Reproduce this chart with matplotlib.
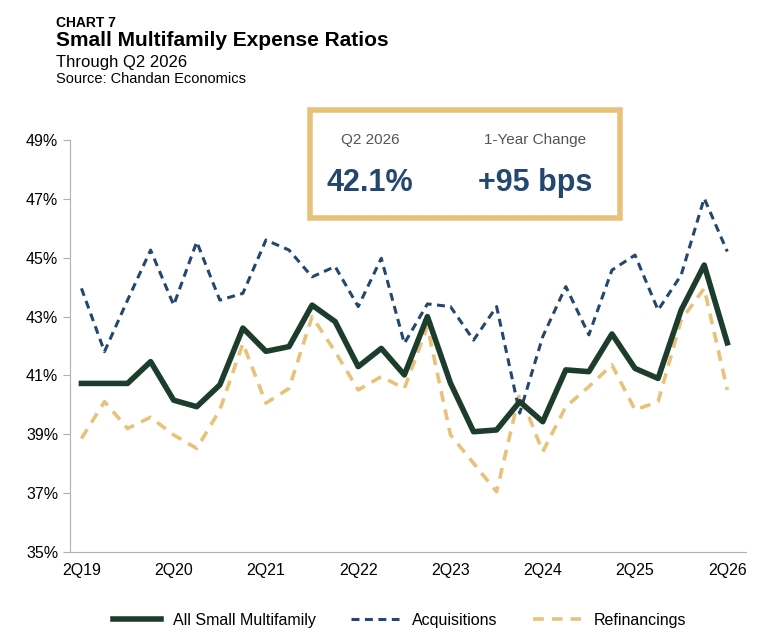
import numpy as np
import matplotlib.pyplot as plt
from matplotlib.patches import Rectangle

plt.rcParams['font.family'] = ['Liberation Sans', 'DejaVu Sans']

# quarterly series, 2Q19 .. 2Q26
all_small = [40.73, 40.73, 40.73, 41.47, 40.16, 39.94, 40.68, 42.61, 41.82, 41.98,
             43.39, 42.83, 41.30, 41.92, 41.02, 43.00, 40.74, 39.09, 39.15, 40.11,
             39.43, 41.19, 41.13, 42.41, 41.24, 40.90, 43.22, 44.75, 42.11]
acquisitions = [43.96, 41.81, 43.56, 45.26, 43.39, 45.54, 43.56, 43.79, 45.60, 45.26,
                44.35, 44.70, 43.34, 44.98, 42.09, 43.43, 43.34, 42.20, 43.34, 39.72,
                42.32, 44.02, 42.38, 44.58, 45.09, 43.22, 44.41, 47.02, 45.21]
refinancings = [38.86, 40.11, 39.20, 39.58, 38.98, 38.52, 39.83, 42.09, 40.06, 40.56,
                43.00, 41.81, 40.51, 40.96, 40.56, 42.66, 38.98, 38.02, 37.05, 40.39,
                38.41, 39.94, 40.62, 41.36, 39.83, 40.11, 42.88, 43.96, 40.51]
tick_labels = ['2Q19', '2Q20', '2Q21', '2Q22', '2Q23', '2Q24', '2Q25', '2Q26']
y_ticks = [35, 37, 39, 41, 43, 45, 47, 49]

green = '#1c3d2c'
navy = '#23476f'
gold = '#e8c27a'

fig = plt.figure(figsize=(7.68, 6.42), dpi=100)
ax = fig.add_axes([0.091, 0.14, 0.88, 0.642])
x = np.arange(len(all_small))

ax.plot(x, refinancings, color=gold, lw=2.6, dashes=(3, 2.2), label='Refinancings', zorder=2)
ax.plot(x, acquisitions, color=navy, lw=2.2, dashes=(2.6, 1.8), label='Acquisitions', zorder=3)
ax.plot(x, all_small, color=green, lw=4, label='All Small Multifamily', zorder=4)

ax.set_xlim(-0.5, 28.8)
ax.set_ylim(35, 49)
ax.set_yticks(y_ticks)
ax.set_yticklabels([f'{v}%' for v in y_ticks], fontsize=11.5)
ax.set_xticks(np.arange(0, 29, 4))
ax.set_xticklabels(tick_labels, fontsize=11.5)
ax.tick_params(axis='x', length=0, pad=8)
ax.tick_params(axis='y', length=5, color='#b0b0b0', direction='out')
for s in ['top', 'right']:
    ax.spines[s].set_visible(False)
ax.spines['left'].set_color('#b0b0b0')
ax.spines['bottom'].set_color('#b0b0b0')

h, l = ax.get_legend_handles_labels()
order = [2, 1, 0]
fig.legend([h[i] for i in order], [l[i] for i in order], loc='lower center',
           bbox_to_anchor=(0.52, 0.0), ncol=3, frameon=False, fontsize=11.5,
           handlelength=3, columnspacing=2.2)

# header
fig.text(0.073, 0.975, 'CHART 7', fontsize=10, fontweight='bold', va='top')
fig.text(0.073, 0.952, 'Small Multifamily Expense Ratios', fontsize=15, fontweight='bold', va='top')
fig.text(0.073, 0.915, 'Through Q2 2026', fontsize=12, va='top')
fig.text(0.073, 0.888, 'Source: Chandan Economics', fontsize=10.5, va='top')

# callout box
fig.patches.append(Rectangle((310/768, 1 - 218/642), 310/768, 108/642, transform=fig.transFigure,
                             fill=False, edgecolor=gold, lw=4, zorder=10))
fig.text(370/768, 1 - 140/642, 'Q2 2026', fontsize=11, color='#555555', ha='center', va='center')
fig.text(535/768, 1 - 140/642, '1-Year Change', fontsize=11, color='#555555', ha='center', va='center')
fig.text(370/768, 1 - 183/642, '42.1%', fontsize=22, fontweight='bold', color=navy, ha='center', va='center')
fig.text(535/768, 1 - 183/642, '+95 bps', fontsize=22, fontweight='bold', color=navy, ha='center', va='center')

fig.savefig('out.png', dpi=100)
